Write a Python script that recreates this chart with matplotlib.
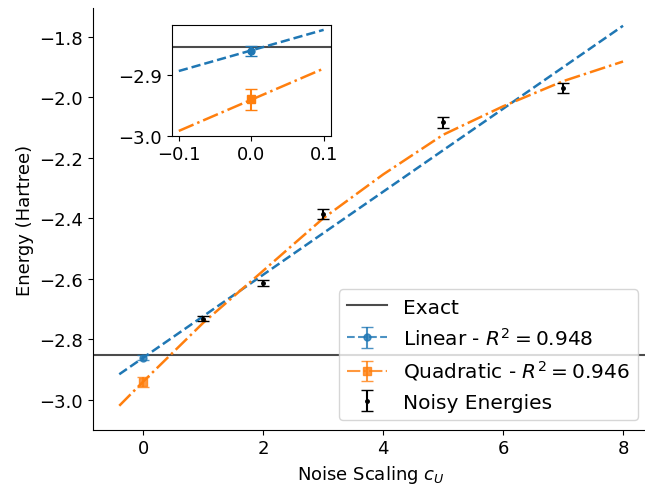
import numpy as np
import matplotlib
matplotlib.use('Agg')
import matplotlib.pyplot as plt

# values
exact_energy = -2.853

noise_x = [1, 2, 3, 5, 7]
noise_e = [-2.731, -2.614, -2.386, -2.083, -1.970]
noise_err = [0.009, 0.011, 0.016, 0.019, 0.016]

lin_x = [-0.4, 8.0]
lin_e = [-2.915, -1.764]
lin_zero = -2.860
lin_zero_err = 0.009
lin_r2 = 0.948

quad_x = [-0.4, 0, 1, 2, 3, 4, 5, 6, 7, 8]
quad_e = [-3.019, -2.939, -2.745, -2.573, -2.400, -2.255, -2.124, -2.030, -1.947, -1.882]
quad_zero = -2.940
quad_zero_err = 0.017
quad_r2 = 0.946

# zoomed region around the extrapolation
inset_x = [-0.1, 0.1]
inset_lin_e = [-2.893, -2.825]
inset_quad_e = [-2.992, -2.889]

plt.rcParams['font.size'] = 13

fig = plt.figure(figsize=(6.45, 4.85), dpi=100)
ax = fig.add_axes([0.144, 0.112, 0.861, 0.869])

ax.axhline(exact_energy, color='k', alpha=0.7, lw=1.5, label='Exact')
ax.plot(lin_x, lin_e, '--', color='C0', lw=1.8)
ax.errorbar([0], [lin_zero], yerr=[lin_zero_err], fmt='o--', color='C0', capsize=4,
            ms=5, alpha=0.8, label='Linear - $R^2 = %.3f$' % lin_r2)
ax.plot(quad_x, quad_e, '-.', color='C1', lw=1.8)
ax.errorbar([0], [quad_zero], yerr=[quad_zero_err], fmt='s-.', color='C1', capsize=4,
            ms=6, alpha=0.8, label='Quadratic - $R^2 = %.3f$' % quad_r2)
ax.errorbar(noise_x, noise_e, yerr=noise_err, fmt='k.', capsize=4, ms=5, label='Noisy Energies')

ax.set_xlim(-0.84, 8.42)
ax.set_ylim(-3.098, -1.706)
ax.set_xticks([0, 2, 4, 6, 8])
ax.set_yticks([-3.0, -2.8, -2.6, -2.4, -2.2, -2.0, -1.8])
ax.set_xlabel('Noise Scaling $c_U$')
ax.set_ylabel('Energy (Hartree)')
ax.spines['top'].set_visible(False)
ax.spines['right'].set_visible(False)
ax.legend(loc='lower right', fontsize=14.5)

ins = fig.add_axes([0.266, 0.718, 0.247, 0.229])
ins.axhline(exact_energy, color='k', alpha=0.7, lw=1.5)
ins.plot(inset_x, inset_lin_e, '--', color='C0', lw=1.8)
ins.errorbar([0], [lin_zero], yerr=[lin_zero_err], fmt='o', color='C0', capsize=4, ms=5)
ins.plot(inset_x, inset_quad_e, '-.', color='C1', lw=1.8)
ins.errorbar([0], [quad_zero], yerr=[quad_zero_err], fmt='s', color='C1', capsize=4, ms=6)
ins.set_xlim(-0.11, 0.11)
ins.set_ylim(-3.0, -2.8165)
ins.set_xticks([-0.1, 0.0, 0.1])
ins.set_yticks([-3.0, -2.9])

fig.savefig('out.png', dpi=100)
